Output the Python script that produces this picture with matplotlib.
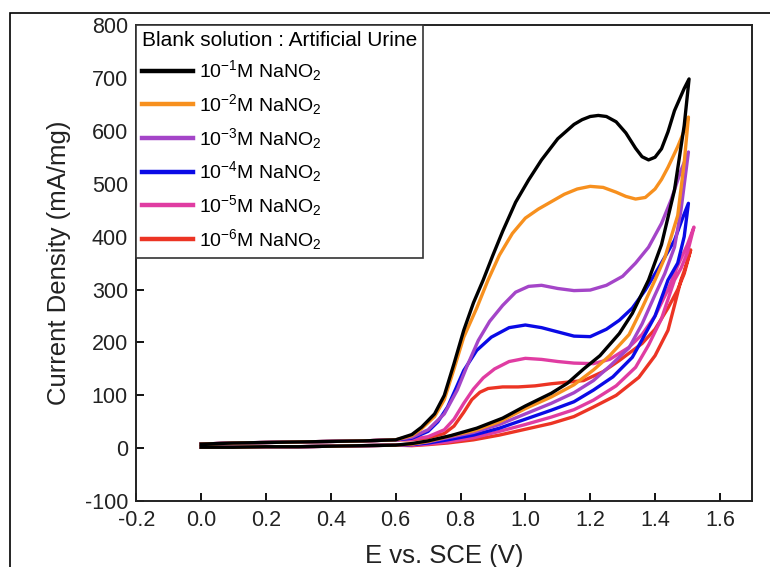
import matplotlib
matplotlib.use('Agg')
import matplotlib.pyplot as plt
import matplotlib.patches as patch

plt.rcParams['font.family'] = ['Liberation Sans', 'DejaVu Sans']
plt.rcParams['mathtext.fontset'] = 'custom'
plt.rcParams['mathtext.rm'] = 'Liberation Sans'
plt.rcParams['mathtext.it'] = 'Liberation Sans:italic'
plt.rcParams['axes.unicode_minus'] = False

#---------- data (E in V, J in mA/mg) ----------
base_fwd_E = [0.0, 0.1, 0.2, 0.3, 0.4, 0.5, 0.6]
base_fwd_J = [8, 10, 11, 12, 13, 14, 16]
base_rev_E = [0.6, 0.5, 0.4, 0.3, 0.2, 0.1, 0.0]
base_rev_J = [6, 5, 4, 3, 3, 2, 2]

# 10^-1 M
blk_fwd_E = [0.65, 0.68, 0.72, 0.75, 0.78, 0.81, 0.84, 0.87, 0.90, 0.93, 0.97, 1.01, 1.05, 1.10, 1.15, 1.175, 1.20, 1.225, 1.25, 1.28, 1.31, 1.34, 1.36, 1.38, 1.40, 1.42, 1.44, 1.46, 1.49, 1.505]
blk_fwd_J = [26, 40, 65, 100, 160, 223, 275, 318, 365, 410, 465, 507, 545, 585, 612, 621, 627, 629, 627, 617, 596, 567, 551, 545, 550, 566, 598, 638, 680, 698]
blk_rev_E = [1.49, 1.46, 1.42, 1.38, 1.33, 1.29, 1.23, 1.18, 1.13, 1.08, 1.00, 0.93, 0.85, 0.77, 0.70, 0.65]
blk_rev_J = [610, 488, 385, 318, 255, 217, 175, 150, 123, 104, 80, 57, 38, 24, 14, 9]

# 10^-2 M
org_fwd_E = [0.65, 0.68, 0.72, 0.75, 0.78, 0.81, 0.85, 0.885, 0.92, 0.96, 1.00, 1.04, 1.08, 1.12, 1.16, 1.20, 1.24, 1.28, 1.31, 1.34, 1.37, 1.40, 1.42, 1.44, 1.47, 1.49, 1.503]
org_fwd_J = [24, 37, 60, 92, 150, 210, 265, 318, 365, 406, 435, 452, 466, 480, 490, 495, 493, 484, 476, 471, 474, 490, 508, 531, 570, 600, 626]
org_rev_E = [1.49, 1.47, 1.43, 1.40, 1.36, 1.32, 1.26, 1.21, 1.15, 1.08, 1.00, 0.92, 0.84, 0.76, 0.70, 0.65]
org_rev_J = [540, 440, 360, 318, 265, 215, 175, 148, 120, 97, 75, 50, 33, 22, 13, 8]

# 10^-3 M
pur_fwd_E = [0.65, 0.70, 0.75, 0.79, 0.82, 0.855, 0.89, 0.93, 0.97, 1.01, 1.05, 1.10, 1.15, 1.20, 1.25, 1.30, 1.34, 1.38, 1.42, 1.45, 1.48, 1.503]
pur_fwd_J = [21, 35, 65, 110, 155, 204, 240, 270, 295, 306, 308, 302, 298, 299, 308, 325, 350, 380, 425, 470, 525, 560]
pur_rev_E = [1.48, 1.46, 1.43, 1.40, 1.36, 1.32, 1.26, 1.21, 1.15, 1.08, 1.00, 0.92, 0.84, 0.76, 0.70, 0.65]
pur_rev_J = [450, 380, 330, 290, 235, 190, 155, 128, 105, 85, 65, 45, 30, 20, 12, 8]

# 10^-4 M
blu_fwd_E = [0.65, 0.70, 0.73, 0.76, 0.785, 0.81, 0.85, 0.895, 0.95, 1.00, 1.05, 1.10, 1.15, 1.20, 1.25, 1.29, 1.33, 1.37, 1.41, 1.46, 1.485, 1.503]
blu_fwd_J = [19, 32, 50, 78, 112, 147, 185, 210, 228, 233, 228, 220, 212, 211, 225, 242, 265, 299, 340, 393, 435, 463]
blu_rev_E = [1.49, 1.47, 1.44, 1.40, 1.36, 1.33, 1.27, 1.21, 1.15, 1.08, 1.00, 0.92, 0.84, 0.76, 0.70, 0.65]
blu_rev_J = [400, 350, 318, 250, 205, 172, 135, 110, 88, 72, 55, 38, 25, 16, 10, 7]

# 10^-5 M
pnk_fwd_E = [0.65, 0.70, 0.75, 0.78, 0.81, 0.84, 0.87, 0.905, 0.95, 1.00, 1.05, 1.10, 1.15, 1.21, 1.26, 1.32, 1.36, 1.40, 1.44, 1.47, 1.50, 1.52]
pnk_fwd_J = [17, 22, 35, 55, 85, 112, 133, 150, 164, 170, 168, 164, 161, 160, 168, 191, 215, 250, 300, 345, 385, 418]
pnk_rev_E = [1.50, 1.48, 1.46, 1.42, 1.38, 1.34, 1.28, 1.21, 1.15, 1.08, 1.00, 0.92, 0.84, 0.76, 0.70, 0.65]
pnk_rev_J = [370, 340, 318, 245, 195, 153, 118, 91, 73, 59, 45, 32, 20, 12, 8, 6]

# 10^-6 M
red_fwd_E = [0.65, 0.70, 0.75, 0.78, 0.81, 0.835, 0.86, 0.885, 0.93, 0.978, 1.03, 1.08, 1.13, 1.18, 1.24, 1.29, 1.36, 1.40, 1.44, 1.47, 1.49, 1.51]
red_fwd_J = [16, 20, 28, 42, 68, 92, 106, 113, 116, 116, 118, 122, 125, 128, 145, 166, 198, 225, 265, 300, 330, 375]
red_rev_E = [1.49, 1.48, 1.46, 1.44, 1.40, 1.35, 1.28, 1.21, 1.15, 1.08, 1.00, 0.92, 0.84, 0.76, 0.70, 0.65]
red_rev_J = [335, 318, 270, 223, 175, 134, 100, 78, 60, 47, 36, 25, 16, 10, 7, 5]

labels = [r'$\mathrm{10^{-1}}$M NaNO$_\mathrm{2}$', r'$\mathrm{10^{-2}}$M NaNO$_\mathrm{2}$',
          r'$\mathrm{10^{-3}}$M NaNO$_\mathrm{2}$', r'$\mathrm{10^{-4}}$M NaNO$_\mathrm{2}$',
          r'$\mathrm{10^{-5}}$M NaNO$_\mathrm{2}$', r'$\mathrm{10^{-6}}$M NaNO$_\mathrm{2}$']
colors = ['#000000', '#F7901E', '#A445C8', '#0A0AE6', '#E03CA2', '#EC3424']

series = [(blk_fwd_E, blk_fwd_J, blk_rev_E, blk_rev_J),
          (org_fwd_E, org_fwd_J, org_rev_E, org_rev_J),
          (pur_fwd_E, pur_fwd_J, pur_rev_E, pur_rev_J),
          (blu_fwd_E, blu_fwd_J, blu_rev_E, blu_rev_J),
          (pnk_fwd_E, pnk_fwd_J, pnk_rev_E, pnk_rev_J),
          (red_fwd_E, red_fwd_J, red_rev_E, red_rev_J)]

#---------- figure ----------
fig = plt.figure(figsize=(7.7, 5.67), dpi=100)
ax = fig.add_axes([0.177, 0.116, 0.800, 0.840])

# outer frame round the picture
fig.patches.append(patch.Rectangle((10/770, -0.1), 1.2, 1.1 - 13/567, transform=fig.transFigure,
                                   fill=False, ec='black', lw=1.2))

handles = []
for i, (fe, fj, re, rj) in enumerate(series):
    E = base_fwd_E + fe + re + base_rev_E
    J = base_fwd_J + fj + rj + base_rev_J
    line, = ax.plot(E, J, color=colors[i], lw=2.4, solid_joinstyle='round', label=labels[i],
                    zorder=3 + (6 - i) * 0.1)
    handles.append(line)

ax.set_xlim(-0.2, 1.7)
ax.set_ylim(-100, 800)
ax.set_xticks([-0.2, 0.0, 0.2, 0.4, 0.6, 0.8, 1.0, 1.2, 1.4, 1.6])
ax.set_yticks(range(-100, 801, 100))
ax.xaxis.set_major_formatter(matplotlib.ticker.FormatStrFormatter('%.1f'))
ax.tick_params(direction='in', length=6, width=1.3, labelsize=15.5, pad=6, labelcolor='#222222')
for s in ax.spines.values():
    s.set_linewidth(1.4)
    s.set_color('#222222')

ax.set_xlabel('E vs. SCE (V)', fontsize=18.5, labelpad=10, color='#222222')
ax.set_ylabel('Current Density (mA/mg)', fontsize=18.5, labelpad=10, color='#222222')

leg = ax.legend(handles=handles, title='Blank solution : Artificial Urine', loc='upper left',
                bbox_to_anchor=(0, 1), borderaxespad=0, fancybox=False, framealpha=1,
                edgecolor='#333333', fontsize=14, title_fontsize=15, handlelength=2.6,
                handletextpad=0.3, labelspacing=0.45, alignment='left', borderpad=0.3)
leg.get_frame().set_linewidth(1.2)
for l in leg.get_lines():
    l.set_linewidth(3.2)

fig.savefig('out.png', dpi=100)
